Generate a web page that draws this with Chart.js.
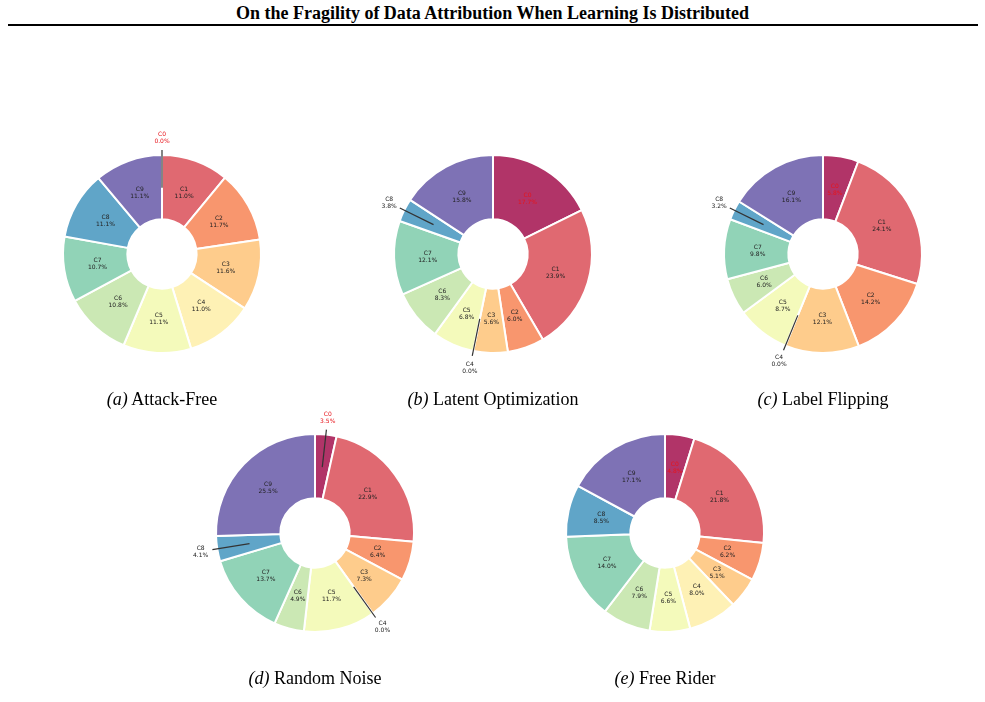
<!DOCTYPE html>
<html>
<head>
<meta charset="utf-8">
<script src="https://cdn.jsdelivr.net/npm/chart.js@4.4.0/dist/chart.umd.min.js"></script>
<style>
    body {
        margin: 0;
        background: #fff;
        width: 985px;
        height: 702px;
        position: relative;
        overflow: hidden;
        font-family: "Liberation Serif", "Times New Roman", serif;
    }
    #title {
        position: absolute;
        top: 2px;
        left: 0;
        width: 985px;
        text-align: center;
        font-weight: bold;
        font-size: 18px;
        line-height: 22px;
    }
    #rule {
        position: absolute;
        left: 8px;
        width: 970px;
        top: 24px;
        height: 2px;
        background: #000;
    }
    .pie { position: absolute; }
    .cap {
        position: absolute;
        width: 300px;
        text-align: center;
        font-size: 18px;
        line-height: 20px;
    }
</style>
</head>
<body>
<div id="title">On the Fragility of Data Attribution When Learning Is Distributed</div>
<div id="rule"></div>
<div id="charts"></div>

<script>
var categories = ['C0', 'C1', 'C2', 'C3', 'C4', 'C5', 'C6', 'C7', 'C8', 'C9'];

var attack_free = [0.0, 11.0, 11.7, 11.6, 11.0, 11.1, 10.8, 10.7, 11.1, 11.1];
var latent_optimization = [17.7, 23.9, 6.0, 5.6, 0.0, 6.8, 8.3, 12.1, 3.8, 15.8];
var label_flipping = [5.8, 24.1, 14.2, 12.1, 0.0, 8.7, 6.0, 9.8, 3.2, 16.1];
var random_noise = [3.5, 22.9, 6.4, 7.3, 0.0, 11.7, 4.9, 13.7, 4.1, 25.5];
var free_rider = [4.8, 21.8, 6.2, 5.1, 8.0, 6.6, 7.9, 14.0, 8.5, 17.1];

var panel_letters = ['(a)', '(b)', '(c)', '(d)', '(e)'];
var panel_names = ['Attack-Free', 'Latent Optimization', 'Label Flipping', 'Random Noise', 'Free Rider'];

// Spectral colormap, 10 samples, alpha 0.8 on white
var slice_colors = [
    'rgb(177,52,104)', 'rgb(224,105,113)', 'rgb(248,150,110)', 'rgb(254,204,140)',
    'rgb(254,241,181)', 'rgb(244,250,187)', 'rgb(203,232,180)', 'rgb(145,211,183)',
    'rgb(96,165,200)', 'rgb(126,114,181)'
];

var panels = [
    { data: attack_free, cx: 162, cy: 254 },
    { data: latent_optimization, cx: 493, cy: 254 },
    { data: label_flipping, cx: 823, cy: 254 },
    { data: random_noise, cx: 315, cy: 533 },
    { data: free_rider, cx: 665, cy: 533 }
];
var caption_y = [399, 399, 399, 678, 678];

// labels in the ring, small slices pushed outside with a leader line
var sliceLabels = {
    id: 'sliceLabels',
    afterDatasetsDraw: function (chart) {
        var ctx = chart.ctx;
        var meta = chart.getDatasetMeta(0);
        var values = chart.data.datasets[0].data;
        var labels = chart.data.labels;
        ctx.save();
        ctx.font = '6px "DejaVu Sans"';
        ctx.textAlign = 'center';
        ctx.textBaseline = 'middle';
        meta.data.forEach(function (arc, i) {
            var p = arc.getProps(['x', 'y', 'startAngle', 'endAngle', 'outerRadius'], true);
            var mid = (p.startAngle + p.endAngle) / 2;
            var R = p.outerRadius;
            var c = Math.cos(mid), s = Math.sin(mid);
            var r = 0.66 * R;
            if (values[i] < 4.5) {
                ctx.strokeStyle = '#333';
                ctx.lineWidth = 1.2;
                ctx.beginPath();
                ctx.moveTo(p.x + 1.05 * R * c, p.y + 1.05 * R * s);
                ctx.lineTo(p.x + 0.67 * R * c, p.y + 0.67 * R * s);
                ctx.stroke();
                r = 1.17 * R;
            }
            var x = p.x + r * c, y = p.y + r * s;
            ctx.fillStyle = i === 0 ? '#e8141b' : '#222';
            ctx.fillText(labels[i], x, y - 3.5);
            ctx.fillText(values[i].toFixed(1) + '%', x, y + 3.5);
        });
        ctx.restore();
    }
};

var holder = document.getElementById('charts');

panels.forEach(function (panel, k) {
    var canvas = document.createElement('canvas');
    canvas.className = 'pie';
    canvas.width = 300;
    canvas.height = 300;
    canvas.style.left = (panel.cx - 150) + 'px';
    canvas.style.top = (panel.cy - 150) + 'px';
    holder.appendChild(canvas);

    new Chart(canvas.getContext('2d'), {
        type: 'doughnut',
        data: {
            labels: categories,
            datasets: [{
                data: panel.data,
                backgroundColor: slice_colors,
                borderColor: '#fff',
                borderWidth: 2
            }]
        },
        options: {
            responsive: false,
            animation: false,
            events: [],
            radius: 99,
            cutout: '35%',
            plugins: {
                legend: { display: false },
                tooltip: { enabled: false }
            }
        },
        plugins: [sliceLabels]
    });

    var cap = document.createElement('div');
    cap.className = 'cap';
    cap.style.left = (panel.cx - 150) + 'px';
    cap.style.top = (caption_y[k] - 10) + 'px';
    cap.innerHTML = '<i>' + panel_letters[k] + '</i> ' + panel_names[k];
    holder.appendChild(cap);
});
</script>
</body>
</html>
